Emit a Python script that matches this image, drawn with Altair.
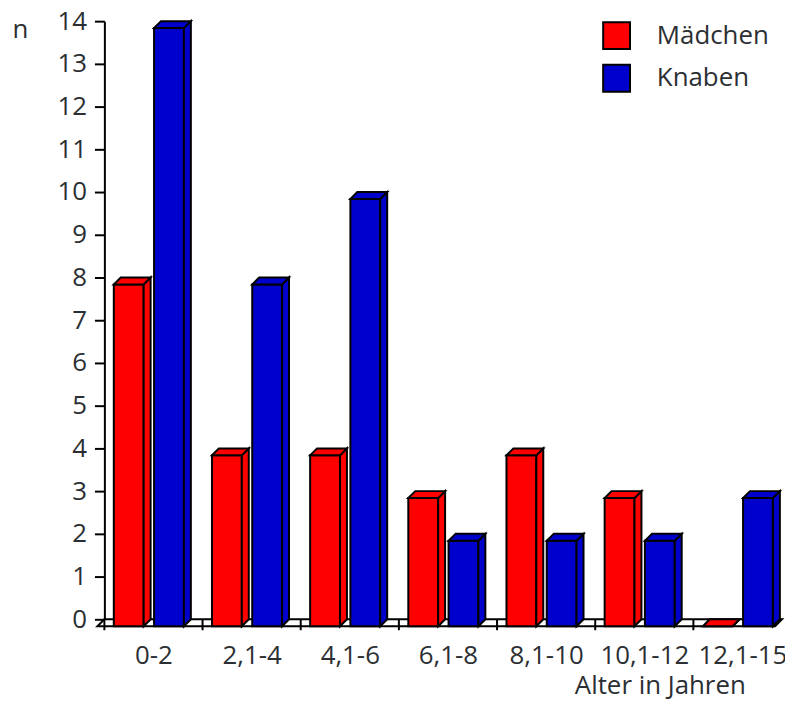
import altair as alt
import pandas as pd

categories = ["0-2", "2,1-4", "4,1-6", "6,1-8", "8,1-10", "10,1-12", "12,1-15"]
maedchen = [8, 4, 4, 3, 4, 3, 0]
knaben = [14, 8, 10, 2, 2, 2, 3]
series = ["Mädchen", "Knaben"]
colors = ["#ff0000", "#0000cc"]

FONT = "Open Sans"
TXT = "#2b2f33"
W, H = 682, 609
XMAX = W / 98.8
DX = 7 / 98.8   # depth in category units
DY = 7 / 43.0   # depth in value units
offsets = {"Mädchen": (0.096, 0.40), "Knaben": (0.506, 0.81)}

front, side, top = [], [], []
for s, vals in zip(series, [maedchen, knaben]):
    a, b = offsets[s]
    for i, (c, v) in enumerate(zip(categories, vals)):
        bid = f"{s}-{i}"
        xl, xr = i + a, i + b
        front.append(dict(bar=bid, serie=s, cat=c, xl=xl, xr=xr, y0=-DY, y1=v - DY))
        side.append(dict(bar=bid, serie=s, x=xr, ylo=-DY, yhi=v - DY))
        side.append(dict(bar=bid, serie=s, x=xr + DX, ylo=0, yhi=v))
        top.append(dict(bar=bid, serie=s, y=v - DY, xa=xl, xb=xr))
        top.append(dict(bar=bid, serie=s, y=v, xa=xl + DX, xb=xr + DX))

front = pd.DataFrame(front)
side = pd.DataFrame(side)
top = pd.DataFrame(top)
floor = pd.DataFrame([dict(y=-DY, xa=-DX, xb=XMAX - DX), dict(y=0, xa=0, xb=XMAX)])
ticks = pd.DataFrame({"x": list(range(len(categories))), "zero": [0] * len(categories)})

xs = alt.Scale(domain=[0, XMAX], nice=False, zero=False)
ys = alt.Scale(domain=[-DY, 14], nice=False, zero=False)
cs = alt.Scale(domain=series, range=colors)

label_expr = "[" + ",".join(f"'{c}'" for c in categories) + "][floor(datum.value)]"

floor_layer = alt.Chart(floor).mark_area(
    orient="horizontal", fill="white", stroke="black", strokeWidth=2
).encode(
    y=alt.Y("y:Q", scale=ys, stack=None,
            axis=alt.Axis(values=list(range(15)), title="n", titleAngle=0,
                          titleX=-85, titleY=16, titleAlign="center",
                          titleBaseline="alphabetic", titleFontSize=26,
                          titleFontWeight="normal", titleFont=FONT, titleColor=TXT,
                          labelFontSize=26, labelFont=FONT, labelColor=TXT,
                          labelPadding=8, tickSize=10, tickWidth=2, tickColor="black",
                          domainColor="black", domainWidth=2, grid=False)),
    x=alt.X("xa:Q", scale=xs, stack=None,
            axis=alt.Axis(values=[i + 0.5 for i in range(len(categories))],
                          labelExpr=label_expr, ticks=False, domain=False, grid=False,
                          labelFontSize=26, labelFont=FONT, labelColor=TXT,
                          labelPadding=16, labelOverlap=False, title="Alter in Jahren",
                          titleFontSize=26, titleFont=FONT, titleFontWeight="normal",
                          titleColor=TXT, titleX=645, titleY=68, titleAlign="right",
                          titleBaseline="alphabetic", titleAnchor="start")),
    x2="xb:Q",
)

tick_layer = alt.Chart(ticks).mark_rule(color="black", strokeWidth=2).encode(
    x=alt.X("x:Q", scale=xs),
    y=alt.Y("zero:Q", scale=ys),
    y2=alt.value(H + 4),
)

front_layer = alt.Chart(front).mark_rect(stroke="black", strokeWidth=2).encode(
    x=alt.X("xl:Q", scale=xs),
    x2="xr:Q",
    y=alt.Y("y0:Q", scale=ys),
    y2="y1:Q",
    color=alt.Color("serie:N", scale=cs, title=None,
                    legend=alt.Legend(orient="none", legendX=501, legendY=0,
                                      symbolType="square", symbolSize=729,
                                      symbolStrokeColor="black", symbolStrokeWidth=2,
                                      symbolOpacity=1, labelFontSize=26, labelFont=FONT,
                                      labelColor=TXT, labelOffset=26, rowPadding=8,
                                      padding=0)),
)

side_layer = alt.Chart(side).mark_area(
    orient="vertical", stroke="black", strokeWidth=2, opacity=1
).encode(
    x=alt.X("x:Q", scale=xs),
    y=alt.Y("ylo:Q", scale=ys, stack=None),
    y2="yhi:Q",
    detail="bar:N",
    color=alt.Color("serie:N", scale=cs, legend=None),
)

top_layer = alt.Chart(top).mark_area(
    orient="horizontal", stroke="black", strokeWidth=2, opacity=1
).encode(
    y=alt.Y("y:Q", scale=ys),
    x=alt.X("xa:Q", scale=xs, stack=None),
    x2="xb:Q",
    detail="bar:N",
    color=alt.Color("serie:N", scale=cs, legend=None),
)

chart = alt.layer(floor_layer, tick_layer, front_layer, side_layer, top_layer).properties(
    width=W, height=H,
    background="white",
    autosize=alt.AutoSizeParams(type="none"),
    padding={"left": 97, "top": 11, "right": 3, "bottom": 74},
).configure_view(stroke=None).configure_axis(grid=False)

chart.save("out.html", embed_options={"renderer": "svg", "actions": False})
